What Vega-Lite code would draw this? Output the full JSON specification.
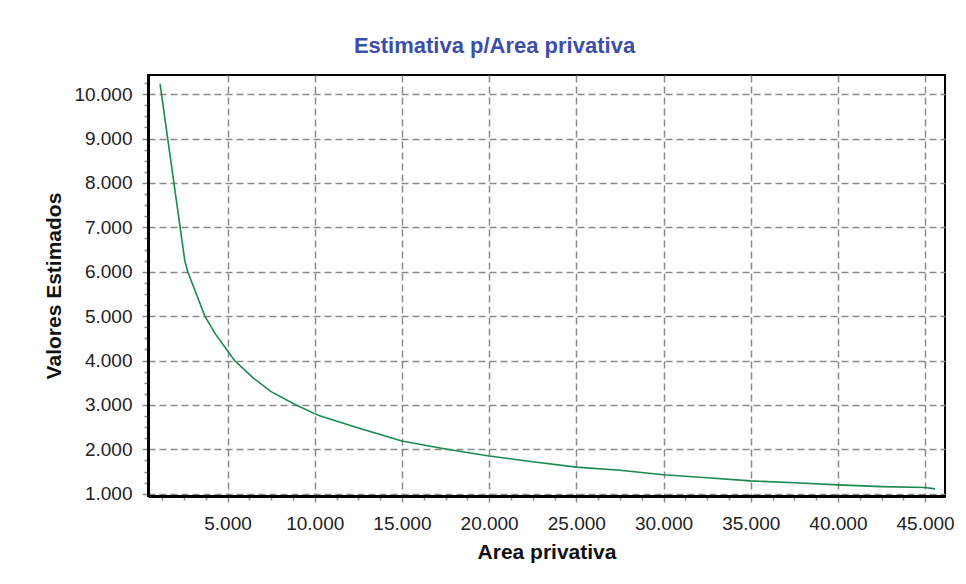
{
  "$schema": "https://vega.github.io/schema/vega-lite/v6.json",
  "width": 797,
  "height": 421,
  "autosize": {"type": "none"},
  "padding": {"left": 148, "top": 75, "right": 21, "bottom": 88},
  "background": "white",
  "title": {
    "text": "Estimativa p/Area privativa",
    "font": "Liberation Sans",
    "fontSize": 22,
    "fontWeight": "bold",
    "color": "#3c4fa8",
    "anchor": "middle",
    "dx": -52,
    "offset": 17
  },
  "data": {
    "values": [
      {"area": 1130, "valor": 10230},
      {"area": 2550, "valor": 6250},
      {"area": 2720, "valor": 6000},
      {"area": 3700, "valor": 5000},
      {"area": 4300, "valor": 4600},
      {"area": 5400, "valor": 4000},
      {"area": 6500, "valor": 3600},
      {"area": 7500, "valor": 3300},
      {"area": 8930, "valor": 3000},
      {"area": 10240, "valor": 2760},
      {"area": 12500, "valor": 2480},
      {"area": 15000, "valor": 2190},
      {"area": 17500, "valor": 2010},
      {"area": 20000, "valor": 1850},
      {"area": 22500, "valor": 1720},
      {"area": 25000, "valor": 1600},
      {"area": 27500, "valor": 1530},
      {"area": 30000, "valor": 1430},
      {"area": 32500, "valor": 1360},
      {"area": 35000, "valor": 1290},
      {"area": 37500, "valor": 1250},
      {"area": 40000, "valor": 1200},
      {"area": 42500, "valor": 1160},
      {"area": 45000, "valor": 1140},
      {"area": 45570, "valor": 1110}
    ]
  },
  "config": {
    "view": {"stroke": "black", "strokeWidth": 2},
    "axis": {
      "labelFont": "Liberation Sans",
      "labelFontSize": 19,
      "labelColor": "#222222",
      "titleFont": "Liberation Sans",
      "titleFontSize": 21,
      "titleFontWeight": "bold",
      "titleColor": "#111111",
      "gridColor": "#8a8a8a",
      "gridDash": [7, 4],
      "gridWidth": 1.5,
      "gridOpacity": 1,
      "domainColor": "black",
      "domainWidth": 3,
      "tickColor": "#8a8a8a",
      "tickWidth": 1.5
    }
  },
  "resolve": {"axis": {"x": "independent", "y": "independent"}},
  "layer": [
    {
      "mark": {"type": "line", "opacity": 0},
      "encoding": {
        "x": {
          "field": "area", "type": "quantitative",
          "scale": {"domain": [440, 46140], "nice": false, "zero": false},
          "axis": {"orient": "bottom", "values": [1250,2500,3750,6250,7500,8750,11250,12500,13750,16250,17500,18750,21250,22500,23750,26250,27500,28750,31250,32500,33750,36250,37500,38750,41250,42500,43750,46250], "labels": false, "grid": false, "domain": false, "tickSize": 4, "title": null}
        },
        "y": {
          "field": "valor", "type": "quantitative",
          "scale": {"domain": [950, 10430], "nice": false, "zero": false},
          "axis": {"orient": "left", "values": [1250,1500,1750,2250,2500,2750,3250,3500,3750,4250,4500,4750,5250,5500,5750,6250,6500,6750,7250,7500,7750,8250,8500,8750,9250,9500,9750,10250], "labels": false, "grid": false, "domain": false, "tickSize": 4, "title": null}
        }
      }
    },
    {
      "mark": {"type": "line", "color": "#1a8a50", "strokeWidth": 1.6},
      "encoding": {
        "x": {
          "field": "area", "type": "quantitative",
          "scale": {"domain": [440, 46140], "nice": false, "zero": false},
          "axis": {"orient": "bottom", "grid": true, "values": [5000,10000,15000,20000,25000,30000,35000,40000,45000], "labelExpr": "replace(format(datum.value, ','), ',', '.')", "tickSize": 6, "labelPadding": 12, "title": "Area privativa", "titlePadding": 8}
        },
        "y": {
          "field": "valor", "type": "quantitative",
          "scale": {"domain": [950, 10430], "nice": false, "zero": false},
          "axis": {"orient": "left", "grid": true, "values": [1000,2000,3000,4000,5000,6000,7000,8000,9000,10000], "labelExpr": "replace(format(datum.value, ','), ',', '.')", "tickSize": 6, "labelPadding": 10, "title": "Valores Estimados", "titlePadding": 9}
        }
      }
    }
  ]
}
